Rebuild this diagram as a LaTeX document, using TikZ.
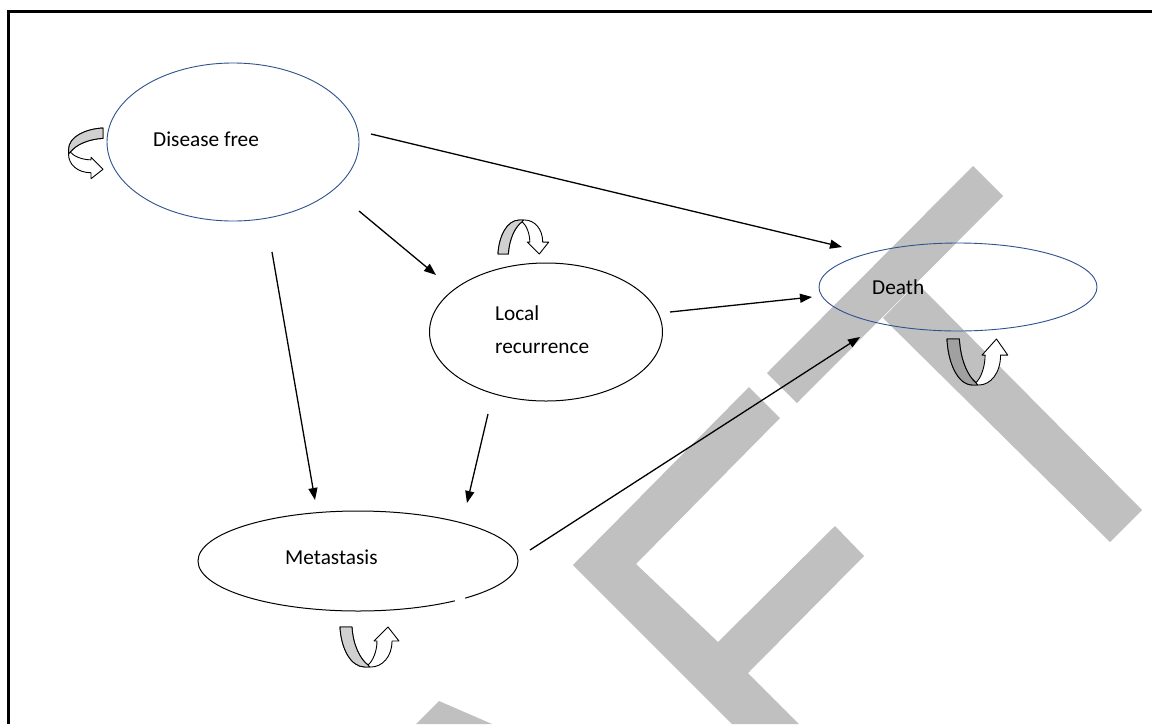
\documentclass[tikz,border=0pt]{standalone}
\usepackage{fontspec}
\setmainfont{Carlito}
\usetikzlibrary{arrows.meta,shapes.geometric}
\definecolor{wm}{HTML}{C0C0C0}
\definecolor{ellblue}{HTML}{2F528F}
\definecolor{lgray}{HTML}{D0D0D0}
\definecolor{dgray}{HTML}{A0A0A0}
\newcommand{\myuloop}[2]{%
\begin{scope}[#1]
 \filldraw[fill=white, draw=black, line width=0.9pt, line join=round] (0,0) -- (12,0) .. controls (13,18) and (20,32) .. (28,38) .. controls (33,34) and (37,24) .. (37,14) -- (34,14) -- (48,0) -- (59,14) -- (52,14) .. controls (52,30) and (42,40) .. (31,40) -- (25,40) .. controls (10,40) and (1,20) .. (0,0) -- cycle;
 \filldraw[fill=#2, draw=black, line width=0.9pt, line join=round] (0,0) -- (12,0) .. controls (13,18) and (20,32) .. (28,38) -- (30,40) -- (25,40) .. controls (10,40) and (1,20) .. (0,0) -- cycle;
\end{scope}}
\begin{document}
\begin{tikzpicture}[x=1pt,y=-1pt,
  stateblue/.style={draw=ellblue, line width=0.9pt, ellipse, inner sep=0pt},
  stateblack/.style={draw=black, line width=1pt, ellipse, inner sep=0pt},
  lbl/.style={anchor=west, inner sep=0pt, font=\fontsize{21.3}{26}\selectfont},
  conn/.style={draw=black, line width=1.3pt, -{Triangle[length=12pt,width=9pt]}},
  wmark/.style={fill=wm, draw=none}]
\useasboundingbox (0,0) rectangle (1152,724);
\fill[white] (0,0) rectangle (1152,724);
% watermark
\fill[wmark] (767,373) -- (797,403) -- (1003,196) -- (973,166) -- cycle;
\fill[wmark] (883,318) -- (1110,542) -- (1142,510) -- (917,283) -- cycle;
\fill[wmark] (749,387) -- (573,565) -- (732,724) -- (799,724) -- (748,673) -- (864,556) -- (835,526) -- (718,642) -- (636,564) -- (780,418) -- cycle;
\fill[wmark] (439,701) -- (416,724) -- (492,724) -- cycle;
% frame
\draw[line width=3pt] (8.5,724) -- (8.5,11.5) -- (1152,11.5);
% states
\node[stateblue, minimum width=252pt, minimum height=158pt] (df) at (233,142) {};
\node[stateblack, minimum width=233pt, minimum height=138pt] (lr) at (546,332) {};
\node[stateblue, minimum width=278pt, minimum height=88pt] (de) at (958,287) {};
\node[stateblack, minimum width=320pt, minimum height=100pt] (me) at (358,561) {};
\draw[white, line width=3pt] (455,600.8) -- (465,598.2);
\node[lbl] (dft) at (153,139) {Disease free};
\node[lbl] (lrt1) at (495,313) {Local};
\node[lbl] (lrt2) at (495,348) {recurrence};
\node[lbl] (det) at (872,287) {Death};
\node[lbl] (met) at (285,557) {Metastasis};
% connector ends
\coordinate (s1) at (371,134); \coordinate (e1) at (842,247);
\coordinate (s2) at (359,211); \coordinate (e2) at (436,275);
\coordinate (s3) at (272,252); \coordinate (e3) at (315,500);
\coordinate (s4) at (670,312); \coordinate (e4) at (812,297);
\coordinate (s5) at (488,414); \coordinate (e5) at (467,503);
\coordinate (s6) at (530,550); \coordinate (e6) at (860,337);
\path[conn] (s1) -- (e1);
\path[conn] (s2) -- (e2);
\path[conn] (s3) -- (e3);
\path[conn] (s4) -- (e4);
\path[conn] (s5) -- (e5);
\path[conn] (s6) -- (e6);
% self loops
\myuloop{shift={(103,128)}, rotate=-90, scale=0.86}{lgray}
\myuloop{shift={(498,254)}, xscale=0.86, yscale=-0.85}{lgray}
\myuloop{shift={(947,339)}, xscale=1.03, yscale=1.15}{dgray}
\myuloop{shift={(340,627)}}{lgray}
\end{tikzpicture}
\end{document}
